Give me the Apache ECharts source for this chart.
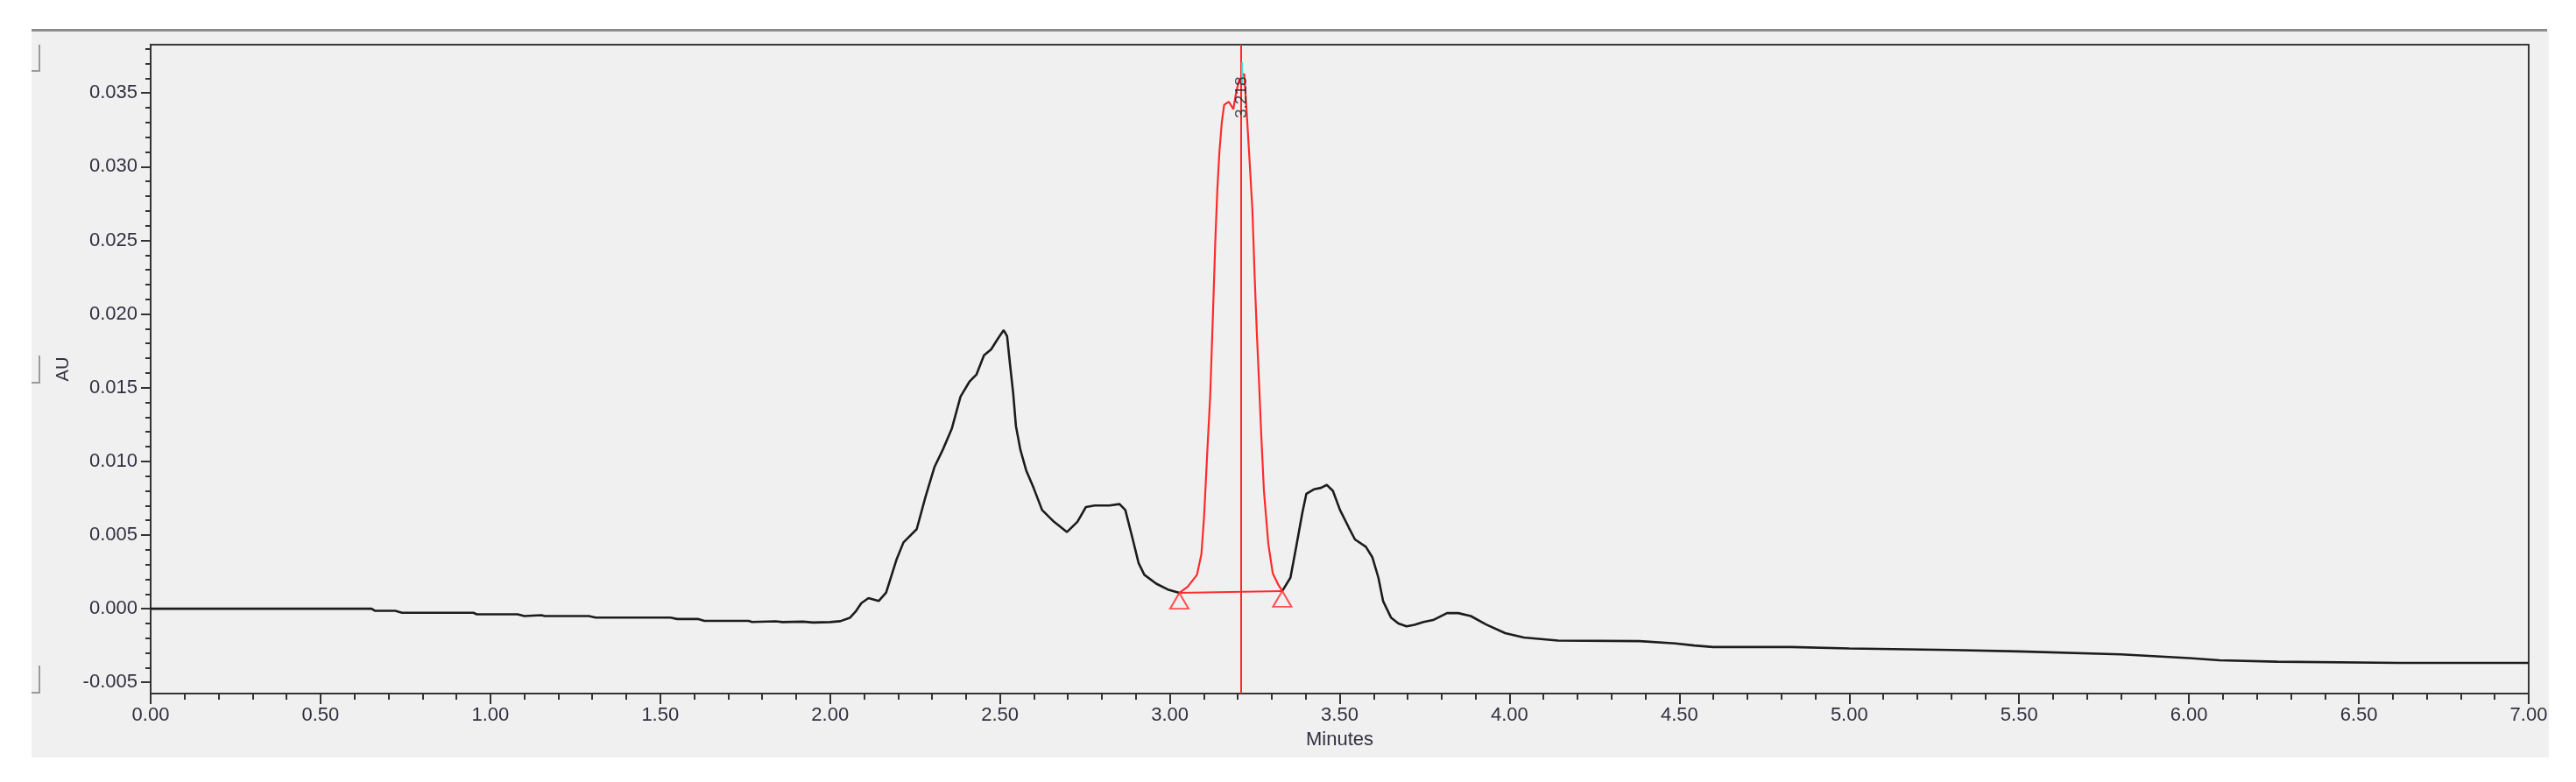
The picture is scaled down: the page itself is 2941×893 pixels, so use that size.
<!DOCTYPE html>
<html>
<head>
<meta charset="utf-8">
<script src="https://cdn.jsdelivr.net/npm/echarts@6/dist/echarts.min.js"></script>
<style>
  html, body { margin: 0; padding: 0; background: #ffffff; }
  #chart { width: 2941px; height: 893px; }
</style>
</head>
<body>
<div id="chart"></div>
<script>
// ---- Data (time in minutes, absorbance in AU) ----
const traceBefore = [
  [0.00, 0.0000], [0.65, 0.0000], [0.66, -0.00014], [0.72, -0.00014], [0.74, -0.00028],
  [0.95, -0.00028], [0.96, -0.00038], [1.08, -0.00038], [1.10, -0.00050], [1.15, -0.00044],
  [1.16, -0.00050], [1.29, -0.00050], [1.31, -0.00060], [1.53, -0.00060], [1.55, -0.00070],
  [1.61, -0.00070], [1.63, -0.00083], [1.76, -0.00083], [1.77, -0.00090], [1.84, -0.00086],
  [1.86, -0.00091], [1.92, -0.00088], [1.95, -0.00094], [2.00, -0.00091], [2.03, -0.00085],
  [2.058, -0.00062], [2.075, -0.00020], [2.092, 0.00038], [2.113, 0.00072], [2.143, 0.00052],
  [2.165, 0.00110], [2.180, 0.00220], [2.195, 0.00330], [2.216, 0.00450], [2.255, 0.00540],
  [2.281, 0.00760], [2.307, 0.00960], [2.332, 0.01080], [2.358, 0.01220], [2.384, 0.01440],
  [2.410, 0.01540], [2.431, 0.01590], [2.453, 0.01720], [2.474, 0.01760], [2.496, 0.01840],
  [2.511, 0.01890], [2.521, 0.01850], [2.530, 0.01650], [2.539, 0.01460], [2.547, 0.01240],
  [2.560, 0.01080], [2.577, 0.00940], [2.599, 0.00820], [2.624, 0.00670], [2.659, 0.00590],
  [2.697, 0.00520], [2.728, 0.00590], [2.753, 0.00690], [2.779, 0.00700], [2.822, 0.00700],
  [2.852, 0.00710], [2.869, 0.00670], [2.891, 0.00470], [2.908, 0.00310], [2.925, 0.00230],
  [2.960, 0.00170], [2.994, 0.00130], [3.028, 0.00107]
];
const peakTrace = [
  [3.028, 0.00107], [3.053, 0.00150], [3.080, 0.00230], [3.093, 0.00370], [3.101, 0.00630],
  [3.110, 0.01050], [3.119, 0.01450], [3.127, 0.02000], [3.134, 0.02500], [3.140, 0.02850],
  [3.146, 0.03100], [3.153, 0.03300], [3.160, 0.03420], [3.174, 0.03440], [3.187, 0.03390],
  [3.195, 0.03500], [3.203, 0.03580], [3.213, 0.03620], [3.219, 0.03630], [3.226, 0.03380],
  [3.234, 0.03070], [3.243, 0.02710], [3.250, 0.02240], [3.256, 0.01880], [3.262, 0.01570],
  [3.269, 0.01190], [3.277, 0.00800], [3.290, 0.00440], [3.303, 0.00240], [3.320, 0.00160],
  [3.331, 0.00120]
];
const traceAfter = [
  [3.331, 0.00120], [3.355, 0.00210], [3.372, 0.00420], [3.390, 0.00650], [3.402, 0.00780],
  [3.424, 0.00810], [3.445, 0.00820], [3.462, 0.00840], [3.480, 0.00800], [3.501, 0.00670],
  [3.527, 0.00550], [3.545, 0.00470], [3.577, 0.00420], [3.596, 0.00350], [3.614, 0.00210],
  [3.628, 0.00050], [3.651, -0.00060], [3.673, -0.00100], [3.697, -0.00120], [3.720, -0.00110],
  [3.747, -0.00090], [3.775, -0.00077], [3.816, -0.00030], [3.849, -0.00030], [3.886, -0.00050],
  [3.931, -0.00107], [3.987, -0.00166], [4.042, -0.00196], [4.143, -0.00216], [4.383, -0.00220],
  [4.488, -0.00236], [4.544, -0.00250], [4.599, -0.00260], [4.830, -0.00260], [5.000, -0.00270],
  [5.300, -0.00280], [5.500, -0.00290], [5.800, -0.00310], [6.000, -0.00335], [6.090, -0.00350],
  [6.260, -0.00360], [6.620, -0.00368], [7.000, -0.00368]
];
const integrationBaseline = [[3.028, 0.00107], [3.331, 0.00120]];
const peakApexTime = 3.213;
const peakLabel = '3.218';
const apexMarker = [[3.213, 0.0356], [3.213, 0.0371]];
const labelAnchor = [[3.213, 0.0347]];
const yTickValues = [-0.005, 0.000, 0.005, 0.010, 0.015, 0.020, 0.025, 0.030, 0.035];
const yMinorTickValues = [];
for (let k = -5; k <= 38; k++) yMinorTickValues.push(k / 1000);
const xRange = [0, 7];
const yRange = [-0.00576, 0.03828];

// ---- Styling ----
const FONT = '"Liberation Sans", Arial, sans-serif';
const TXT = '#303040';
const AX = '#333333';
const RED = '#ff2b2b';

const chart = echarts.init(document.getElementById('chart'), null, { renderer: 'canvas' });

const option = {
  backgroundColor: '#ffffff',
  animation: false,
  graphic: [
    { type: 'rect', z: -10, shape: { x: 36, y: 34, width: 2874, height: 831 }, style: { fill: '#f0f0f0' } },
    { type: 'line', z: -9, shape: { x1: 36, y1: 34.5, x2: 2908, y2: 34.5 }, style: { stroke: '#8c8c8c', lineWidth: 3 } },
    { type: 'polyline', z: -9, shape: { points: [[36, 81], [45, 81], [45, 51]] }, style: { stroke: '#9a9a9a', lineWidth: 2, fill: null } },
    { type: 'polyline', z: -9, shape: { points: [[36, 437], [45, 437], [45, 406]] }, style: { stroke: '#9a9a9a', lineWidth: 2, fill: null } },
    { type: 'polyline', z: -9, shape: { points: [[36, 791], [45, 791], [45, 760]] }, style: { stroke: '#9a9a9a', lineWidth: 2, fill: null } }
  ],
  grid: {
    left: 172, right: 54, top: 51, bottom: 101,
    show: true, backgroundColor: '#f0f0f0', borderColor: '#3a3a3a', borderWidth: 2
  },
  xAxis: {
    type: 'value', min: xRange[0], max: xRange[1], interval: 0.5,
    name: 'Minutes', nameLocation: 'middle', nameGap: 42,
    nameTextStyle: { fontFamily: FONT, fontSize: 22, color: TXT },
    axisLine: { show: true, onZero: false, lineStyle: { color: AX, width: 2 } },
    axisTick: { show: true, length: 12, lineStyle: { color: AX, width: 2 } },
    minorTick: { show: true, splitNumber: 5, length: 7, lineStyle: { color: AX, width: 2 } },
    axisLabel: { fontFamily: FONT, fontSize: 22, color: TXT, margin: 14, formatter: v => v.toFixed(2) },
    splitLine: { show: false }, minorSplitLine: { show: false }
  },
  yAxis: [
    {
      type: 'value', min: yRange[0], max: yRange[1],
      name: 'AU', nameLocation: 'middle', nameGap: 90, nameRotate: 90,
      nameTextStyle: { fontFamily: FONT, fontSize: 20, color: TXT },
      axisLine: { show: true, onZero: false, lineStyle: { color: AX, width: 2 } },
      axisTick: { show: true, length: 11, customValues: yTickValues, lineStyle: { color: AX, width: 2 } },
      axisLabel: { fontFamily: FONT, fontSize: 22, color: TXT, margin: 15, customValues: yTickValues, formatter: v => v.toFixed(3) },
      splitLine: { show: false }
    },
    {
      type: 'value', min: yRange[0], max: yRange[1], position: 'left', offset: 0,
      axisLine: { show: false, onZero: false },
      axisTick: { show: true, length: 6, customValues: yMinorTickValues, lineStyle: { color: AX, width: 2 } },
      axisLabel: { show: false },
      splitLine: { show: false }
    }
  ],
  series: [
    {
      type: 'line', data: traceBefore, showSymbol: false, symbol: 'none', z: 3,
      lineStyle: { color: '#1c1c1c', width: 2.6 }
    },
    {
      type: 'line', data: traceAfter, showSymbol: false, symbol: 'none', z: 3,
      lineStyle: { color: '#1c1c1c', width: 2.6 }
    },
    {
      type: 'line', data: peakTrace, showSymbol: false, symbol: 'none', z: 4,
      lineStyle: { color: RED, width: 2.2 },
      markLine: {
        silent: true, symbol: ['none', 'none'], label: { show: false },
        lineStyle: { color: RED, width: 2, type: 'solid' },
        data: [{ xAxis: peakApexTime }]
      }
    },
    {
      type: 'line', data: integrationBaseline, showSymbol: false, symbol: 'none', z: 4,
      lineStyle: { color: RED, width: 2 }
    },
    {
      type: 'scatter', data: integrationBaseline, symbol: 'triangle', symbolSize: [21, 18],
      symbolOffset: [0, 9], z: 5,
      itemStyle: { color: 'rgba(0,0,0,0)', borderColor: RED, borderWidth: 2 }
    },
    {
      type: 'line', data: apexMarker, showSymbol: false, symbol: 'none', z: 6,
      lineStyle: { color: '#3fe0e6', width: 2 }
    },
    {
      type: 'scatter', data: labelAnchor, symbolSize: 0, z: 7,
      label: {
        show: true, position: 'inside', rotate: 90, formatter: peakLabel,
        fontFamily: FONT, fontSize: 19, color: '#222230'
      }
    }
  ]
};
chart.setOption(option);
</script>
</body>
</html>
